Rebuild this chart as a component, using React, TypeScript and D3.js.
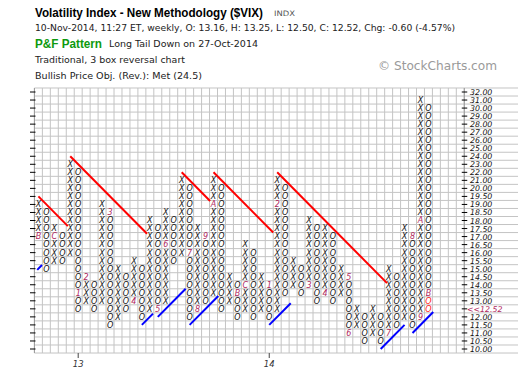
import React from 'react';
import * as d3 from 'd3';

// ---- data ----
const priceLevels = [32, 31, 30, 29, 28, 27, 26, 25, 24, 23, 22, 21, 20, 19.5, 19, 18.5, 18, 17.5, 17, 16.5, 16, 15.5, 15, 14.5, 14, 13.5, 13, 12.5, 12, 11.5, 11, 10.5, 10];

const colKinds = ['X','O','X','O','X','O','X','O','X','O','X','O','X','O','X','O','X','O','X','O','X','O','X','O','X','O','X','O','X','O','X','O','X','O','X','O','X','O','X','O','X','O','X','O','X','O','X','O','X','O'];
const colLow = [17, 15, 15.5, 15.5, 16, 12.5, 13, 12.5, 13, 11.5, 12, 12.5, 13, 12, 12.5, 12.5, 13, 15.5, 16, 12, 12.5, 13, 13.5, 12.5, 13, 12, 12.5, 12, 12.5, 12, 12.5, 13.5, 14, 13.5, 14, 13, 13.5, 13, 13.5, 11, 11.5, 10.5, 11, 10.5, 11, 11.5, 12, 11.5, 12, 12.5];
const colHigh = [19, 18.5, 17.5, 17, 23, 22, 14.5, 14, 19, 18.5, 15, 14.5, 15.5, 15, 18, 17.5, 18.5, 18, 21, 20, 17.5, 17, 21, 20, 14.5, 14, 16.5, 16, 14.5, 14, 21, 20, 15.5, 15, 18, 17.5, 17.5, 17, 15, 14.5, 12.5, 12, 12.5, 12, 15, 14.5, 17.5, 17, 31, 30];

const monthCols = [0, 2, 5, 6, 9, 12, 15, 16, 19, 20, 21, 22, 25, 26, 29, 30, 34, 36, 39, 39, 44, 47, 48, 48, 49];
const monthPrices = [17, 17, 13.5, 14.5, 18.5, 13, 12.5, 16.5, 16, 12.5, 17, 19, 13.5, 14, 14, 19, 14, 13.5, 14.5, 11, 11, 17, 12, 18, 13.5];
const monthLabels = ['B', 'C', '1', '2', '3', '4', '5', '6', '7', '8', '9', 'A', 'B', 'C', '1', '2', '3', '4', '5', '6', '7', '8', '9', 'A', 'B'];

const currentCol = 49;
const currentPrices = [13, 12.5];
const lastClose = '12.52';
const lastLevel = 12.5;

const redStartCols = [0, 4, 18, 22, 30];
const redStartPrices = [19.5, 24, 22, 22, 22];
const redEndCols = [3.7, 13.65, 21.57, 29.5, 43.8];

const blueStartCols = [-1, 13, 15, 19, 29, 43, 47];
const blueStartPrices = [14.5, 11.5, 12, 11.5, 11.5, 10, 11];
const blueEndCols = [0.45, 14.4, 18.5, 22.6, 31.7, 46, 49.6];

const yearCols = [5, 29];
const yearLabels = ['13', '14'];

const titleText = 'Volatility Index - New Methodology ($VIX)';
const exchangeText = 'INDX';
const quoteText = '10-Nov-2014, 11:27 ET, weekly, O: 13.16, H: 13.25, L: 12.50, C: 12.52, Chg: -0.60 (-4.57%)';
const patternLabel = 'P&F Pattern';
const patternText = 'Long Tail Down on 27-Oct-2014';
const methodText = 'Traditional, 3 box reversal chart';
const objText = 'Bullish Price Obj. (Rev.): Met (24.5)';
const creditText = '\u00A9 StockCharts.com';

// ---- component ----
export default function App() {
  const W = 520, H = 378;
  const nCols = colKinds.length;
  const cw = 7.96;
  const x = d3.scaleLinear().domain([0, nCols - 1]).range([38.4, 38.4 + (nCols - 1) * cw]);
  const y = d3.scaleLinear().domain([0, priceLevels.length - 1]).range([92, 349]);
  const rowOf = (p: number) => priceLevels.indexOf(p);

  const gridCells = 54;
  const gridLeft = x(-0.5);
  const gridRight = x(gridCells - 0.5);
  const gridTop = y(-0.5);
  const gridBottom = y(priceLevels.length - 0.5);

  const font = "'DejaVu Sans', Verdana, sans-serif";
  const sans = "'Liberation Sans', Arial, sans-serif";
  const markColor = '#b0285e';

  const vLines = d3.range(0, gridCells + 1).map((j) => x(j - 0.5));
  const hLines = d3.range(0, priceLevels.length + 1).map((i) => y(i - 0.5));

  const cells: any[] = [];
  colKinds.forEach((kind, k) => {
    const r0 = rowOf(colHigh[k]);
    const r1 = rowOf(colLow[k]);
    for (let r = r0; r <= r1; r++) {
      const p = priceLevels[r];
      let label = kind;
      let color = '#111';
      const mi = monthCols.findIndex((c, i) => c === k && monthPrices[i] === p);
      if (mi >= 0) { label = monthLabels[mi]; color = markColor; }
      else if (k === currentCol && currentPrices.includes(p)) { color = '#ff2020'; }
      cells.push({ k, r, label, color });
    }
  });

  const lineGen = d3.line<[number, number]>().x((d) => x(d[0])).y((d) => y(d[1]));
  const makeLine = (sc: number, sp: number, ec: number, dir: number) => {
    const sr = rowOf(sp);
    const a = Math.max(sc, -0.15);
    return lineGen([[a, sr + dir * (a - sc)], [ec, sr + dir * (ec - sc)]]) as string;
  };

  return (
    <svg width={W} height={H} style={{ position: 'absolute', left: 0, top: 0, background: '#fff' }}>
      <rect x={0} y={0} width={W} height={H} fill="#fff" />
      {/* header */}
      <text x={35} y={16.5} fontFamily={sans} fontWeight="bold" fontSize={12} textLength={228} lengthAdjust="spacingAndGlyphs" fill="#000">{titleText}</text>
      <text x={274} y={16} fontFamily={font} fontSize={7.5} textLength={21} lengthAdjust="spacingAndGlyphs" fill="#555">{exchangeText}</text>
      <text x={35} y={30.5} fontFamily={font} fontSize={8.5} textLength={420} lengthAdjust="spacingAndGlyphs" fill="#222">{quoteText}</text>
      <text x={35} y={47.5} fontFamily={sans} fontWeight="bold" fontSize={12} textLength={67} lengthAdjust="spacingAndGlyphs" fill="#0e9a0e">{patternLabel}</text>
      <text x={109} y={47} fontFamily={font} fontSize={8.5} textLength={149} lengthAdjust="spacingAndGlyphs" fill="#222">{patternText}</text>
      <text x={35} y={62.5} fontFamily={font} fontSize={8.5} textLength={150} lengthAdjust="spacingAndGlyphs" fill="#222">{methodText}</text>
      <text x={35} y={78.5} fontFamily={font} fontSize={8.5} textLength={167} lengthAdjust="spacingAndGlyphs" fill="#222">{objText}</text>
      <text x={378} y={70} fontFamily={font} fontSize={12} textLength={119} lengthAdjust="spacingAndGlyphs" fill="#9a9a9a">{creditText}</text>

      {/* grid */}
      <rect x={gridLeft} y={gridTop} width={gridRight - gridLeft} height={gridBottom - gridTop} fill="#fff" />
      {vLines.map((vx, i) => (
        <line key={'v' + i} x1={vx} x2={vx} y1={gridTop} y2={gridBottom} stroke="#c4c4c4" strokeWidth={1} />
      ))}
      {hLines.map((hy, i) => (
        <line key={'h' + i} x1={gridLeft} x2={518} y1={hy} y2={hy} stroke="#c4c4c4" strokeWidth={1} />
      ))}
      <line x1={gridLeft} x2={gridLeft} y1={gridTop} y2={gridBottom} stroke="#999" />
      <line x1={gridRight} x2={gridRight} y1={gridTop} y2={gridBottom} stroke="#999" />

      {/* axis ticks */}
      {priceLevels.map((p, i) => (
        <g key={'t' + i}>
          <line x1={30} x2={35.5} y1={y(i)} y2={y(i)} stroke="#000" />
          <line x1={gridRight - 2.5} x2={gridRight + 3} y1={y(i)} y2={y(i)} stroke="#000" />
          {p === lastLevel ? (
            <text x={467} y={y(i) + 3} fontFamily={font} fontStyle="italic" fontSize={7.8} fill={markColor}>{'<<' + lastClose}</text>
          ) : (
            <text x={470} y={y(i) + 3} fontFamily={font} fontStyle="italic" fontSize={7.8} fill="#111">{p.toFixed(2)}</text>
          )}
        </g>
      ))}
      {yearCols.map((c, i) => (
        <g key={'yr' + i}>
          <line x1={x(c)} x2={x(c)} y1={gridBottom} y2={gridBottom + 5} stroke="#444" />
          <text x={x(c)} y={gridBottom + 14} textAnchor="middle" fontFamily={font} fontStyle="italic" fontSize={8.5} fill="#333">{yearLabels[i]}</text>
        </g>
      ))}

      {/* X / O boxes */}
      {cells.map((c, i) => (
        <text key={'c' + i} x={x(c.k)} y={y(c.r)} dy="0.36em" textAnchor="middle" fontFamily={font} fontStyle="italic" fontSize={8} fill={c.color}>{c.label}</text>
      ))}

      {/* trend lines */}
      {redStartCols.map((c, i) => (
        <path key={'r' + i} d={makeLine(c, redStartPrices[i], redEndCols[i], 1)} stroke="#ff0000" strokeWidth={2} fill="none" />
      ))}
      {blueStartCols.map((c, i) => (
        <path key={'b' + i} d={makeLine(c, blueStartPrices[i], blueEndCols[i], -1)} stroke="#0000ff" strokeWidth={2} fill="none" />
      ))}
    </svg>
  );
}
